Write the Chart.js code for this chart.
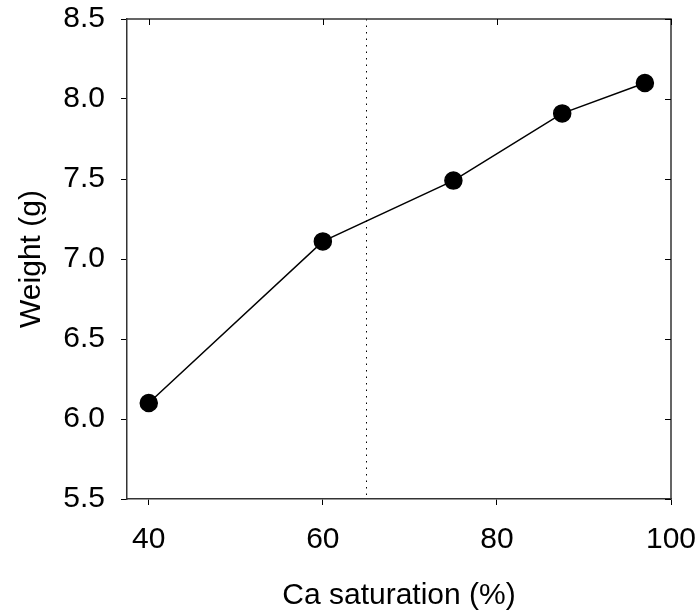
<!DOCTYPE html>
<html lang="en">
<head>
  <meta charset="UTF-8">
  <title>Weight vs Ca saturation</title>
  <script src="https://cdn.jsdelivr.net/npm/chart.js"></script>
  <style>
    body {
      background-color: #fff;
      margin: 0;
      padding: 0;
    }
    #wrap {
      width: 698px;
      height: 614px;
      position: relative;
    }
  </style>
</head>
<body>
  <div id="wrap"><canvas id="weightChart"></canvas></div>

  <script>
    const caSaturation = [40, 60, 75, 87.5, 97];
    const weight = [6.10, 7.11, 7.49, 7.91, 8.10];
    const xTicks = [40, 60, 80, 100];
    const yTicks = [5.5, 6.0, 6.5, 7.0, 7.5, 8.0, 8.5];
    const refLineX = 65;

    const font = { family: '"Liberation Sans", Arial, sans-serif', size: 30 };

    // box around plot: top/right borders with inward ticks, plus dotted reference line
    const framePlugin = {
      id: 'frame',
      beforeDatasetsDraw(chart) {
        const { ctx, chartArea: a, scales } = chart;
        const xs = scales.x, ys = scales.y;
        ctx.save();
        ctx.strokeStyle = '#000';
        ctx.lineWidth = 1;
        ctx.setLineDash([1.5, 5]);
        const rx = Math.round(xs.getPixelForValue(refLineX)) + 0.5;
        ctx.beginPath();
        ctx.moveTo(rx, a.top);
        ctx.lineTo(rx, a.bottom);
        ctx.stroke();
        ctx.setLineDash([]);

        ctx.strokeStyle = '#333';
        ctx.lineWidth = 1.5;
        ctx.beginPath();
        ctx.moveTo(a.left, a.top);
        ctx.lineTo(a.right, a.top);
        ctx.lineTo(a.right, a.bottom);
        ctx.stroke();

        ctx.strokeStyle = '#000';
        ctx.lineWidth = 1;
        ctx.beginPath();
        xTicks.forEach(v => {
          const px = Math.round(xs.getPixelForValue(v)) + 0.5;
          ctx.moveTo(px, a.top);
          ctx.lineTo(px, a.top + 6);
        });
        yTicks.forEach(v => {
          const py = Math.round(ys.getPixelForValue(v)) + 0.5;
          ctx.moveTo(a.right, py);
          ctx.lineTo(a.right - 6, py);
        });
        ctx.stroke();
        ctx.restore();
      }
    };

    const noOverflow = s => {
      s.paddingTop = 0;
      s.paddingBottom = 0;
      s.paddingLeft = 0;
      s.paddingRight = 0;
    };

    const ctx = document.getElementById('weightChart').getContext('2d');
    new Chart(ctx, {
      type: 'scatter',
      data: {
        datasets: [{
          data: caSaturation.map((x, i) => ({ x: x, y: weight[i] })),
          showLine: true,
          borderColor: '#000',
          borderWidth: 1.5,
          backgroundColor: '#000',
          pointRadius: 8.5,
          pointHoverRadius: 8.5
        }]
      },
      options: {
        responsive: true,
        maintainAspectRatio: false,
        animation: false,
        layout: { padding: { top: 19, right: 27, left: 0, bottom: 0 } },
        plugins: {
          legend: { display: false },
          tooltip: { enabled: false }
        },
        scales: {
          x: {
            type: 'linear',
            min: 37.5,
            max: 100,
            afterBuildTicks: s => { s.ticks = xTicks.map(v => ({ value: v })); },
            afterFit: s => { s.height = 115; noOverflow(s); },
            grid: { drawOnChartArea: false, tickLength: 6, color: '#000' },
            border: { display: true, color: '#333', width: 1.5 },
            ticks: { color: '#000', font: font, padding: 17, maxRotation: 0 },
            title: {
              display: true,
              text: 'Ca saturation (%)',
              color: '#000',
              font: font,
              padding: { top: 12, bottom: 0 }
            }
          },
          y: {
            min: 5.5,
            max: 8.5,
            afterBuildTicks: s => { s.ticks = yTicks.map(v => ({ value: v })); },
            afterFit: s => { s.width = 127; noOverflow(s); },
            grid: { drawOnChartArea: false, tickLength: 6, color: '#000' },
            border: { display: true, color: '#333', width: 1.5 },
            ticks: {
              color: '#000',
              font: font,
              padding: 16,
              callback: v => v.toFixed(1)
            },
            title: {
              display: true,
              text: 'Weight (g)',
              color: '#000',
              font: font,
              padding: { top: 14, bottom: 4 }
            }
          }
        }
      },
      plugins: [framePlugin]
    });
  </script>
</body>
</html>
